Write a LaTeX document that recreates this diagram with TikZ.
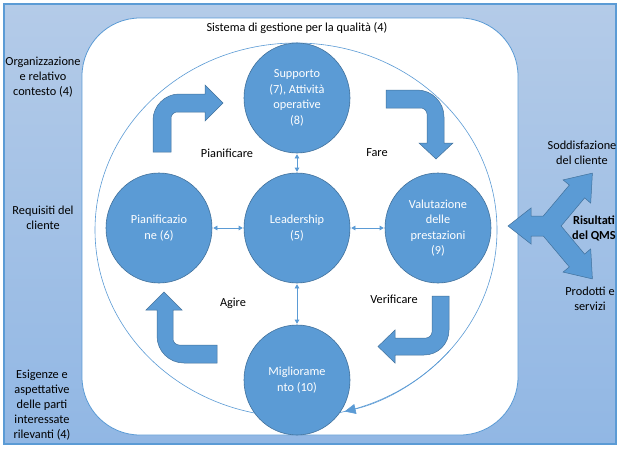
\documentclass[tikz,border=0pt]{standalone}
\usepackage{fontspec}
\setmainfont{Carlito}
\usetikzlibrary{arrows.meta,shapes.geometric,positioning}

\definecolor{qblue}{RGB}{91,155,213}
\definecolor{qedge}{RGB}{65,113,156}
\definecolor{qtop}{RGB}{180,203,232}
\definecolor{qbot}{RGB}{145,183,228}

\tikzset{
  phase/.style={ellipse,fill=qblue,draw=qedge,line width=0.6pt,
    minimum width=106pt,minimum height=110pt,inner sep=0pt,
    text=white,align=center,font=\fontsize{12.3}{15.5}\selectfont},
  lbl/.style={align=center,font=\fontsize{12.3}{15}\selectfont},
  blockarrow/.style={fill=qblue,draw=qedge,line width=0.5pt},
  link/.style={qblue,line width=0.6pt,shorten <=1pt,shorten >=1pt,
    {Triangle[length=4pt,width=4.5pt]}-{Triangle[length=4pt,width=4.5pt]}}
}

\begin{document}
\begin{tikzpicture}[x=1pt,y=-1pt]
  \useasboundingbox (0,0) rectangle (620,450);

  % outer frame, shaded blue
  \draw[qblue,line width=1.3pt,top color=qtop,bottom color=qbot] (4,4) rectangle (616,444);

  % white area of the system
  \draw[qblue,line width=0.8pt,fill=white,rounded corners=58pt] (82,18) rectangle (518,435);
  \node[lbl] (title) at (297,28) {Sistema di gestione per la qualità (4)};

  % big cycle with its arrow near the bottom
  \draw[qblue,line width=0.6pt] (296,230) ellipse[x radius=201,y radius=187];
  \draw[qblue,line width=0.6pt,-{Triangle[length=11pt,width=10pt]}]
    (296,230) ++(40:201 and 187) arc[start angle=40,end angle=76,x radius=201,y radius=187];

  % PDCA block arrows
  \draw[blockarrow] (153,152) -- (153,120) .. controls (153,106) and (165,94) .. (179,94)
    -- (205,94) -- (205,85) -- (223,103) -- (205,121) -- (205,112) -- (177,112)
    .. controls (174,112) and (171,115) .. (171,118) -- (171,152) -- cycle;
  \draw[blockarrow] (386,90) -- (417,90) .. controls (432,90) and (444,102) .. (444,117)
    -- (444,143) -- (453,143) -- (436,159) -- (419,143) -- (427,143) -- (427,114)
    .. controls (427,111) and (424,108) .. (421,108) -- (386,108) -- cycle;
  \draw[blockarrow] (432,296) -- (449,296) -- (449,330) .. controls (449,344) and (438,355) .. (424,355)
    -- (395,355) -- (395,363) -- (378,346.5) -- (395,330) -- (395,338) -- (426,338)
    .. controls (429,338) and (432,335) .. (432,332) -- cycle;
  \draw[blockarrow] (217,345) -- (217,363) -- (184,363) .. controls (169,363) and (157,351) .. (157,336)
    -- (157,310) -- (146,310) -- (164,292) -- (182,310) -- (173,310) -- (173,339)
    .. controls (173,342) and (176,345) .. (179,345) -- cycle;

  % the five phases
  \node[phase] (supp) at (297,98) {Supporto\\(7), Attività\\operative\\(8)};
  \node[phase] (pian) at (159,228) {Pianificazio\\ne (6)};
  \node[phase] (lead) at (297,228) {Leadership\\(5)};
  \node[phase] (valu) at (438,228) {Valutazione\\delle\\prestazioni\\(9)};
  \node[phase] (migl) at (297,380) {Migliorame\\nto (10)};

  % links around leadership
  \draw[link] (pian) -- (lead);
  \draw[link] (lead) -- (valu);
  \draw[link] (supp) -- (lead);
  \draw[link] (lead) -- (migl);

  % PDCA words
  \node[lbl] (plan) at (227,153) {Pianificare};
  \node[lbl] (do) at (377,153) {Fare};
  \node[lbl] (check) at (394,299) {Verificare};
  \node[lbl] (act) at (233,303) {Agire};

  % inputs on the left
  \node[lbl] (org) at (43,77) {Organizzazione\\e relativo\\contesto (4)};
  \node[lbl] (req) at (43,218) {Requisiti del\\cliente};
  \node[lbl] (needs) at (42,405) {Esigenze e\\aspettative\\delle parti\\interessate\\rilevanti (4)};

  % results on the right
  \draw[blockarrow,shift={(548,226)}] (-40,0) -- (-17,-18) -- (-17,-10) -- (-4.7,-10)
    -- (21.3,-40.9) -- (15.1,-46.1) -- (44.4,-52.9) -- (42.7,-22.9) -- (36.6,-28.1)
    -- (13.1,0) -- (36.6,28.1) -- (42.7,22.9) -- (44.4,52.9) -- (15.1,46.1)
    -- (21.3,40.9) -- (-4.7,10) -- (-17,10) -- (-17,18) -- cycle;
  \node[lbl,font=\fontsize{12.3}{15}\selectfont\bfseries] (res) at (594,228) {Risultati\\del QMS};
  \node[lbl] (satis) at (582,153) {Soddisfazione\\del cliente};
  \node[lbl] (prod) at (590,299) {Prodotti e\\servizi};
\end{tikzpicture}
\end{document}
